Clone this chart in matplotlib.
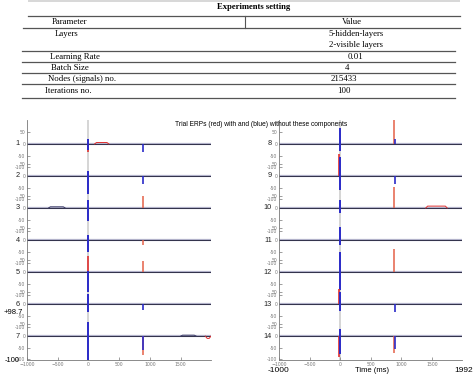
import matplotlib
matplotlib.use('Agg')
import matplotlib.pyplot as plt
from matplotlib.lines import Line2D
from matplotlib.patches import Rectangle

# Table content
params = ['Layers', '', 'Learning Rate', 'Batch Size', 'Nodes (signals) no.', 'Iterations no.']
values = ['5-hidden-layers', '2-visible layers', '0.01', '4', '215433', '100']

# ERP channels
chan_left = ['1', '2', '3', '4', '5', '6', '7']
chan_right = ['8', '9', '10', '11', '12', '13', '14']

# spike near 0 ms (low, high) for blue and red traces, channels 1..14
zero_blue_lo = [-25, -78, -55, -50, -85, -36, -103, -29, -62, -22, -20, -78, -29, -75]
zero_blue_hi = [20, 22, 36, 22, 5, 45, 60, 67, 80, 36, 57, 86, 50, 32]
zero_red_lo = [-35, 0, 0, 0, 0, 0, 0, 0, 0, 0, 0, 0, 0, -90]
zero_red_hi = [0, 0, 0, 0, 70, 0, 0, 0, 96, 0, 0, 0, 65, 0]

# spike near 885 ms
stim_blue_lo = [-35, -36, 0, 0, 0, -25, -60, 0, -36, 0, 0, 0, -36, -55]
stim_blue_hi = [0, 0, 0, 0, 0, 0, 0, 20, 0, 0, 0, 0, 0, 0]
stim_red_lo = [0, 0, 0, -20, 0, 0, -83, 0, 0, 0, 0, 0, 0, -73]
stim_red_hi = [0, 0, 53, 0, 47, 0, 0, 103, 0, 90, 0, 100, 0, 0]

# slow deflections: channel index, start ms, end ms, amplitude, colour
bump_chan = [0, 2, 6, 6, 9]
bump_t0 = [100, -650, 1500, 1900, 1400]
bump_t1 = [330, -380, 1750, 1992, 1750]
bump_amp = [6, 5, 4, -10, 8]
bump_col = ['#e03030', '#3a3a66', '#3a3a66', '#e03030', '#e03030']

t_min, t_max = -1000, 1992
zero_t, stim_t = -8, 885
spacing = 138

fig = plt.figure(figsize=(4.74, 3.76), dpi=100)


def fy(py):
    return 1 - py / 376.0


def fx(px):
    return px / 474.0


# ---- table ----
serif = 'Liberation Serif'
fig.add_artist(Rectangle((fx(28), fy(2)), fx(432), 2 / 376.0, transform=fig.transFigure,
                         color='#d8d8d8', lw=0))
fig.text(fx(254), fy(7), 'Experiments setting', ha='center', va='center',
         fontsize=6.2, fontweight='bold', family=serif)
for y, x0, x1 in [(16, 28, 460), (28, 23, 460), (51, 22, 455), (62, 22, 455),
                  (73, 22, 455), (84, 22, 455), (98, 22, 455)]:
    fig.add_artist(Line2D([fx(x0), fx(x1)], [fy(y), fy(y)], color='#555555', lw=0.9))
fig.add_artist(Line2D([fx(245), fx(245)], [fy(16), fy(28)], color='#555555', lw=0.8))
fig.text(fx(52), fy(22), 'Parameter', ha='left', va='center', fontsize=6.3, family=serif)
fig.text(fx(352), fy(22), 'Value', ha='center', va='center', fontsize=6.3, family=serif)
row_y = [34, 45, 57, 68, 79, 91]
row_x = [55, 0, 50, 51, 48, 45]
val_x = [356, 356, 356, 347, 344, 344]
for p, v, y, px, vx in zip(params, values, row_y, row_x, val_x):
    if p:
        fig.text(fx(px), fy(y), p, ha='left', va='center', fontsize=6.3, family=serif)
    fig.text(fx(vx), fy(y), v, ha='center', va='center', fontsize=6.3, family=serif)

# ---- ERP panels ----
sans = 'Liberation Sans'


def draw_panel(ax, names, first):
    n = len(names)
    offsets = [(n - 1 - k) * spacing for k in range(n)]
    ax.axvline(0, color='#d2d2d2', lw=1.3, zorder=0)
    for k, c in enumerate(offsets):
        i = first + k
        ax.plot([t_min, t_max], [c, c], color='#8080a8', lw=1.6, alpha=0.6)
        ax.plot([t_min, t_max], [c, c], color='#30304a', lw=0.7)
        for bc, b0, b1, ba, col in zip(bump_chan, bump_t0, bump_t1, bump_amp, bump_col):
            if bc == i:
                ax.plot([b0, b0 + 30, b1 - 30, b1], [c, c + ba, c + ba, c], color=col, lw=0.7)
        ax.vlines(zero_t - 6, c + zero_red_lo[i], c + zero_red_hi[i], color='#e03030', lw=1.2)
        ax.vlines(zero_t, c + zero_blue_lo[i], c + zero_blue_hi[i], color='#2a2ac8', lw=1.4)
        ax.vlines(stim_t, c + stim_red_lo[i], c + stim_red_hi[i], color='#e46048', lw=1.1)
        ax.vlines(stim_t + 4, c + stim_blue_lo[i], c + stim_blue_hi[i], color='#2a2ac8', lw=1.2)
        ax.text(-0.04, c, names[k], transform=ax.get_yaxis_transform(), ha='right',
                va='center', fontsize=5.3, family=sans, color='#222222')
    ticks, labels = [], []
    for c in offsets:
        ticks += [c + 50, c, c - 50, c - 100]
        labels += ['50', '0', '-50', '-100']
    ax.set_yticks(ticks)
    ax.set_yticklabels(labels)
    ax.set_xlim(t_min, t_max)
    ax.set_ylim(-103, (n - 1) * spacing + 103)
    ax.set_xticks([-1000, -500, 0, 500, 1000, 1500])
    ax.tick_params(direction='in', length=2, width=0.5, labelsize=3.3,
                   labelcolor='#777777', pad=1.2, colors='#777777')
    for s in ['top', 'right']:
        ax.spines[s].set_visible(False)
    for s in ['left', 'bottom']:
        ax.spines[s].set_linewidth(0.6)
        ax.spines[s].set_color('#777777')


ax1 = fig.add_axes([fx(27), fy(360), fx(184), 240 / 376.0])
ax2 = fig.add_axes([fx(279), fy(360), fx(183), 240 / 376.0])
draw_panel(ax1, chan_left, 0)
draw_panel(ax2, chan_right, 7)

fig.text(fx(261), fy(124), 'Trial ERPs (red) with and (blue) without these components',
         ha='center', va='center', fontsize=4.8, family=sans)
fig.text(fx(13), fy(312), '+98.7', ha='center', va='center', fontsize=5.5, family=sans)
fig.text(fx(12), fy(360), '-100', ha='center', va='center', fontsize=5.5, family=sans)
fig.text(fx(279), fy(371), '-1000', ha='center', va='center', fontsize=6, family=sans)
fig.text(fx(372), fy(371), 'Time (ms)', ha='center', va='center', fontsize=5.5, family=sans)
fig.text(fx(464), fy(370), '1992', ha='center', va='center', fontsize=6, family=sans)

fig.savefig('out.png', dpi=100)
